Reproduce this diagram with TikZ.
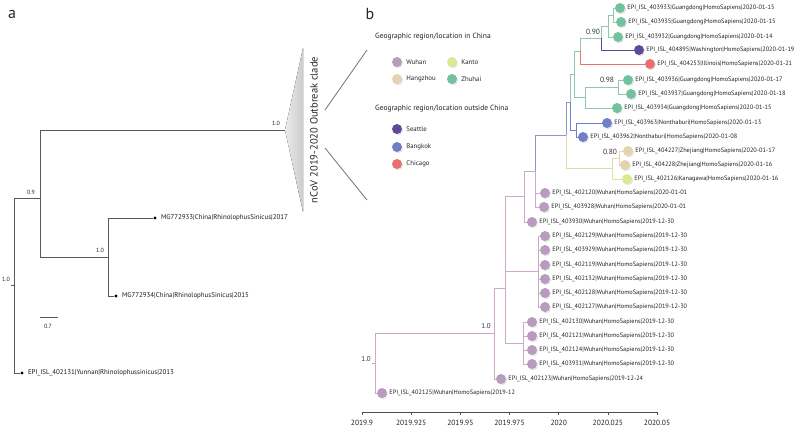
\documentclass[tikz,border=0pt]{standalone}
\usepackage{fontspec}
\setmainfont{PT Sans}
\usetikzlibrary{shadows,positioning}

\definecolor{cwuhan}{HTML}{B89BBE}
\definecolor{chang}{HTML}{E3D3AE}
\definecolor{ckanto}{HTML}{DDE88F}
\definecolor{czhuhai}{HTML}{72C29E}
\definecolor{cseattle}{HTML}{5C4B9C}
\definecolor{cbangkok}{HTML}{6F80C9}
\definecolor{cchicago}{HTML}{E8716F}
\definecolor{bwuhan}{HTML}{CBA9C8}
\definecolor{bmix}{HTML}{8E98C2}
\definecolor{bgreen}{HTML}{92C7AB}
\definecolor{bbeige}{HTML}{E2D8A9}

\begin{document}
\begin{tikzpicture}[x=1pt,y=-1pt,
  tipdot/.style={circle,inner sep=0pt,minimum size=10pt,fill=#1,
    drop shadow={opacity=.2,shadow xshift=1pt,shadow yshift=-1.3pt}},
  tiplbl/.style={font=\fontsize{6.3}{7}\selectfont,text=black!88,inner sep=0pt,label distance=2pt},
  br/.style={draw=#1,line width=.8pt},
  sup/.style={font=\fontsize{7.5}{8}\selectfont,text=black!80,inner sep=0pt},
  lhead/.style={font=\fontsize{7.5}{8}\selectfont,text=black!88,inner sep=0pt,anchor=west},
  ltxt/.style={font=\fontsize{6.8}{7}\selectfont,text=black!85,inner sep=0pt},
  bdot/.style={circle,fill=black,inner sep=0pt,minimum size=3.2pt},
  atip/.style={font=\fontsize{6.9}{7}\selectfont,text=black!90,inner sep=0pt,label distance=4pt},
  asup/.style={font=\fontsize{6}{7}\selectfont,text=black!85,inner sep=0pt},
  abr/.style={draw=black!65,line width=.9pt},
  axlbl/.style={font=\fontsize{7.5}{8}\selectfont,text=black!88,inner sep=0pt}]
  \useasboundingbox (0,0) rectangle (800,429);

  % panel letters
  \node[font=\fontsize{16}{16}\selectfont,text=black!85] (lbla) at (12,14) {a};
  \node[font=\fontsize{16}{16}\selectfont,text=black!85] (lblb) at (370,14) {b};

  % ---- panel a ----
  \coordinate (ra0) at (11,285.5);
  \coordinate (ra) at (14,285.5);
  \coordinate (xa) at (40,198);
  \coordinate (ya) at (108,257);
  \coordinate (apex) at (285,130);
  \coordinate (ctop) at (303,48);
  \coordinate (cbot) at (303,212);
  \node[bdot,label={[atip]right:EPI\_ISL\_402131|Yunnan|Rhinolophussinicus|2013}] (yun) at (22,373) {};
  \node[bdot,label={[atip]right:MG772933|China|RhinolophusSinicus|2017}] (mg33) at (155,218) {};
  \node[bdot,label={[atip]right:MG772934|China|RhinolophusSinicus|2015}] (mg34) at (116,296) {};
  \draw[abr] (ra0) -- (ra) |- (xa);
  \draw[abr] (ra) |- (yun);
  \draw[abr] (xa) |- (apex);
  \draw[abr] (xa) |- (ya);
  \draw[abr] (ya) |- (mg33);
  \draw[abr] (ya) |- (mg34);
  \node[asup] (sa1) at (6,279) {1.0};
  \node[asup] (sa2) at (31,192) {0.9};
  \node[asup] (sa3) at (100,250) {1.0};
  \node[asup] (sa4) at (276,123) {1.0};
  \fill[left color=black!8,right color=black!20] (apex) -- (ctop) -- (cbot) -- cycle;
  \node[rotate=90,font=\fontsize{10.5}{11}\selectfont,text=black!85] (clade) at (314,130) {nCoV 2019-2020 Outbreak clade};
  % scale bar
  \coordinate (sb0) at (40,317);
  \coordinate (sb1) at (58,317);
  \draw[abr,line width=.7pt] (sb0) -- (sb1);
  \node[asup] (sbl) at (48,326) {0.7};
  % zoom lines
  \coordinate (zt0) at (325,110); \coordinate (zt1) at (367,50);
  \coordinate (zb0) at (325,148); \coordinate (zb1) at (367,200);
  \draw[black!55,line width=.8pt] (zt0) -- (zt1);
  \draw[black!55,line width=.8pt] (zb0) -- (zb1);

  % ---- panel b: legend ----
  \node[lhead] (hin) at (375,37) {Geographic region/location in China};
  \node[tipdot=cwuhan] (lwuhan) at (397,62) {};
  \node[ltxt,right=4pt of lwuhan] (twuhan) {Wuhan};
  \node[tipdot=ckanto] (lkanto) at (452,62) {};
  \node[ltxt,right=4pt of lkanto] (tkanto) {Kanto};
  \node[tipdot=chang] (lhang) at (397,79) {};
  \node[ltxt,right=4pt of lhang] (thang) {Hangzhou};
  \node[tipdot=czhuhai] (lzhuhai) at (452,79) {};
  \node[ltxt,right=4pt of lzhuhai] (tzhuhai) {Zhuhai};
  \node[lhead] (hout) at (375,109) {Geographic region/location outside China};
  \node[tipdot=cseattle] (lseattle) at (397,129) {};
  \node[ltxt,right=4pt of lseattle] (tseattle) {Seattle};
  \node[tipdot=cbangkok] (lbangkok) at (397,147) {};
  \node[ltxt,right=4pt of lbangkok] (tbangkok) {Bangkok};
  \node[tipdot=cchicago] (lchicago) at (397,164) {};
  \node[ltxt,right=4pt of lchicago] (tchicago) {Chicago};

  % ---- panel b: tree ----
  \coordinate (M) at (613,15);
  \coordinate (L) at (608,26);
  \coordinate (N) at (601,38);
  \coordinate (O) at (580,51);
  \coordinate (P) at (618,87);
  \coordinate (Q) at (585,97.5);
  \coordinate (S) at (574,74);
  \coordinate (U) at (576,130);
  \coordinate (V) at (570,102);
  \coordinate (K) at (619,158);
  \coordinate (J) at (612,168.5);
  \coordinate (H) at (566,135);
  \coordinate (G) at (535,171);
  \coordinate (C) at (524,196.5);
  \coordinate (D) at (538,271.5);
  \coordinate (E) at (523,343);
  \coordinate (B) at (505,288);
  \coordinate (A) at (494,333.5);
  \coordinate (R0) at (372,363);
  \coordinate (R) at (375.5,363);

  \node[tipdot=czhuhai,label={[tiplbl]right:EPI\_ISL\_403933|Guangdong|HomoSapiens|2020-01-15}] (t1) at (620,8) {};
  \node[tipdot=czhuhai,label={[tiplbl]right:EPI\_ISL\_403935|Guangdong|HomoSapiens|2020-01-15}] (t2) at (621,22) {};
  \node[tipdot=czhuhai,label={[tiplbl]right:EPI\_ISL\_403932|Guangdong|HomoSapiens|2020-01-14}] (t3) at (618,37) {};
  \node[tipdot=cseattle,label={[tiplbl]right:EPI\_ISL\_404895|Washington|HomoSapiens|2020-01-19}] (t4) at (639,50) {};
  \node[tipdot=cchicago,label={[tiplbl]right:EPI\_ISL\_404253|Illinois|HomoSapiens|2020-01-21}] (t5) at (650,64) {};
  \node[tipdot=czhuhai,label={[tiplbl]right:EPI\_ISL\_403936|Guangdong|HomoSapiens|2020-01-17}] (t6) at (628,80) {};
  \node[tipdot=czhuhai,label={[tiplbl]right:EPI\_ISL\_403937|Guangdong|HomoSapiens|2020-01-18}] (t7) at (631,94) {};
  \node[tipdot=czhuhai,label={[tiplbl]right:EPI\_ISL\_403934|Guangdong|HomoSapiens|2020-01-15}] (t8) at (617,108) {};
  \node[tipdot=cbangkok,label={[tiplbl]right:EPI\_ISL\_403963|Nonthaburi|HomoSapiens|2020-01-13}] (t9) at (607,123) {};
  \node[tipdot=cbangkok,label={[tiplbl]right:EPI\_ISL\_403962|Nonthaburi|HomoSapiens|2020-01-08}] (t10) at (583,137) {};
  \node[tipdot=chang,label={[tiplbl]right:EPI\_ISL\_404227|Zhejiang|HomoSapiens|2020-01-17}] (t11) at (628,151) {};
  \node[tipdot=chang,label={[tiplbl]right:EPI\_ISL\_404228|Zhejiang|HomoSapiens|2020-01-16}] (t12) at (625,165) {};
  \node[tipdot=ckanto,label={[tiplbl]right:EPI\_ISL\_402126|Kanagawa|HomoSapiens|2020-01-16}] (t13) at (627,179) {};
  \node[tipdot=cwuhan,label={[tiplbl]right:EPI\_ISL\_402120|Wuhan|HomoSapiens|2020-01-01}] (t14) at (545,193) {};
  \node[tipdot=cwuhan,label={[tiplbl]right:EPI\_ISL\_403928|Wuhan|HomoSapiens|2020-01-01}] (t15) at (544,207) {};
  \node[tipdot=cwuhan,label={[tiplbl]right:EPI\_ISL\_403930|Wuhan|HomoSapiens|2019-12-30}] (t16) at (532,222) {};
  \foreach \id/\yy [count=\k] in {402129/236,403929/250,402119/265,402132/279,402128/293,402127/307}
    \node[tipdot=cwuhan,label={[tiplbl]right:EPI\_ISL\_\id|Wuhan|HomoSapiens|2019-12-30}] (w\k) at (545,\yy) {};
  \foreach \id/\yy [count=\k] in {402130/322,402121/336,402124/350,403931/364}
    \node[tipdot=cwuhan,label={[tiplbl]right:EPI\_ISL\_\id|Wuhan|HomoSapiens|2019-12-30}] (v\k) at (532,\yy) {};
  \node[tipdot=cwuhan,label={[tiplbl]right:EPI\_ISL\_402123|Wuhan|HomoSapiens|2019-12-24}] (t27) at (501,379) {};
  \node[tipdot=cwuhan,label={[tiplbl]right:EPI\_ISL\_402125|Wuhan|HomoSapiens|2019-12}] (t28) at (382,393) {};

  % branches
  \draw[br=bwuhan] (R0) -- (R) |- (A);
  \draw[br=bwuhan] (R) |- (t28);
  \draw[br=bwuhan] (A) |- (B);
  \draw[br=bwuhan] (A) |- (t27);
  \draw[br=bwuhan] (B) |- (C);
  \draw[br=bwuhan] (B) |- (D);
  \draw[br=bwuhan] (B) |- (E);
  \foreach \k in {1,...,6} \draw[br=bwuhan] (D) |- (w\k);
  \foreach \k in {1,...,4} \draw[br=bwuhan] (E) |- (v\k);
  \draw[br=bwuhan] (C) |- (G);
  \draw[br=bwuhan] (C) |- (t16);
  \draw[br=bwuhan] (G) |- (t14);
  \draw[br=bwuhan] (G) |- (t15);
  \draw[br=bmix] (G) |- (H);
  \draw[br=bmix] (H) |- (V);
  \draw[br=bbeige] (H) |- (J);
  \draw[br=bbeige] (J) |- (K);
  \draw[br=bbeige] (K) |- (t11);
  \draw[br=bbeige] (K) |- (t12);
  \draw[br=ckanto] (J) |- (t13);
  \draw[br=bgreen] (V) |- (S);
  \draw[br=cbangkok] (V) |- (U);
  \draw[br=cbangkok] (U) |- (t9);
  \draw[br=cbangkok] (U) |- (t10);
  \draw[br=bgreen] (S) |- (O);
  \draw[br=bgreen] (S) |- (Q);
  \draw[br=bgreen] (Q) |- (P);
  \draw[br=bgreen] (Q) |- (t8);
  \draw[br=bgreen] (P) |- (t6);
  \draw[br=bgreen] (P) |- (t7);
  \draw[br=bgreen] (O) |- (N);
  \draw[br=cchicago] (O) |- (t5);
  \draw[br=bgreen] (N) |- (L);
  \draw[br=cseattle] (N) |- (t4);
  \draw[br=bgreen] (L) |- (M);
  \draw[br=bgreen] (L) |- (t3);
  \draw[br=bgreen] (M) |- (t1);
  \draw[br=bgreen] (M) |- (t2);

  % supports
  \node[sup] (s090) at (593,32) {0.90};
  \node[sup] (s098) at (607,80) {0.98};
  \node[sup] (s080) at (610,152) {0.80};
  \node[sup,font=\fontsize{7}{8}\selectfont] (s10a) at (486,326) {1.0};
  \node[sup,font=\fontsize{7}{8}\selectfont] (s10b) at (366,359) {1.0};

  % time axis
  \coordinate (ax0) at (362,412);
  \coordinate (ax1) at (657,412);
  \draw[black!70,line width=.7pt] (ax0) -- (ax1);
  \foreach \lab [count=\i from 0] in {2019.9,2019.925,2019.95,2019.975,2020,2020.025,2020.05} {
    \draw[black!70,line width=.7pt] (362+49.17*\i,412) -- ++(0,3);
    \node[axlbl] (ax\i) at (362+49.17*\i,423) {\lab};
  }
\end{tikzpicture}
\end{document}
